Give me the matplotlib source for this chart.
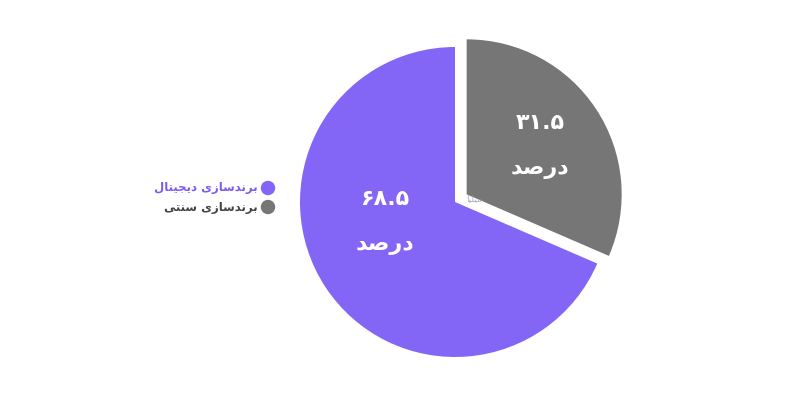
import matplotlib
matplotlib.use("Agg")
import matplotlib.pyplot as plt
from matplotlib.patches import Circle

plt.rcParams['font.family'] = ['DejaVu Sans']

# Persian text in visual order (presentation forms, right-to-left already applied)
WORD_DARSAD = "\uFEAA\uFEBB\uFEAD\uFEA9"                      # درصد
WORD_BRAND = "\uFEEF\uFEAF\uFE8E\uFEB3\uFEAA\uFEE7\uFEAE\uFE91"  # برندسازی
WORD_DIGITAL = "\uFEDD\uFE8E\uFE98\uFEF4\uFEA0\uFEF3\uFEA9"    # دیجیتال
WORD_SONATI = "\uFEF0\uFE98\uFEE8\uFEB3"                       # سنتی
WORD_WATERMARK = "\uFE8E\uFEF4\uFEE0\uFEF4\uFEE3"              # میلیا

categories = [WORD_SONATI + " " + WORD_BRAND, WORD_DIGITAL + " " + WORD_BRAND]  # سنتی / دیجیتال
values = [31.5, 68.5]
value_labels = ["\u06F3\u06F1.\u06F5", "\u06F6\u06F8.\u06F5"]    # ۳۱.۵ / ۶۸.۵
colors = ["#767676", "#8466F7"]
explode_frac = [0.09, 0.0]

fig = plt.figure(figsize=(8, 4), dpi=100)
ax = fig.add_axes([0, 0, 1, 1])

R = 155
cx, cy = 455, 400 - 202
wedges, _ = ax.pie(values, colors=colors, startangle=90, counterclock=False,
                   explode=[e * R for e in explode_frac], radius=R, center=(cx, cy),
                   frame=True, wedgeprops=dict(linewidth=0))
ax.set_xlim(0, 800)
ax.set_ylim(0, 400)
ax.set_aspect('equal')
ax.axis('off')

# value labels
label_pos = [(540, 400 - 123), (385, 400 - 199)]
for (x, y), v in zip(label_pos, value_labels):
    ax.text(x, y, v, ha='center', va='center', fontsize=16, fontweight='bold', color='white')
    ax.text(x, y - 46, WORD_DARSAD, ha='center', va='center', fontsize=16,
            fontweight='bold', color='white')

# faint watermark
ax.text(474, 400 - 199, WORD_WATERMARK, ha='center', va='center', fontsize=6.5,
        color='#9a9ab8', alpha=0.8)

# legend (digital first, then traditional)
leg_items = [(categories[1], colors[1], "#7B5CF0"), (categories[0], colors[0], "#444444")]
for i, (txt, col, tcol) in enumerate(leg_items):
    y = 400 - (188 + i * 19)
    ax.add_patch(Circle((268, y), 6.5, color=col))
    ax.text(258, y, txt, ha='right', va='center', fontsize=8.5, fontweight='bold', color=tcol)

fig.savefig("out.png", dpi=100, facecolor='white')
